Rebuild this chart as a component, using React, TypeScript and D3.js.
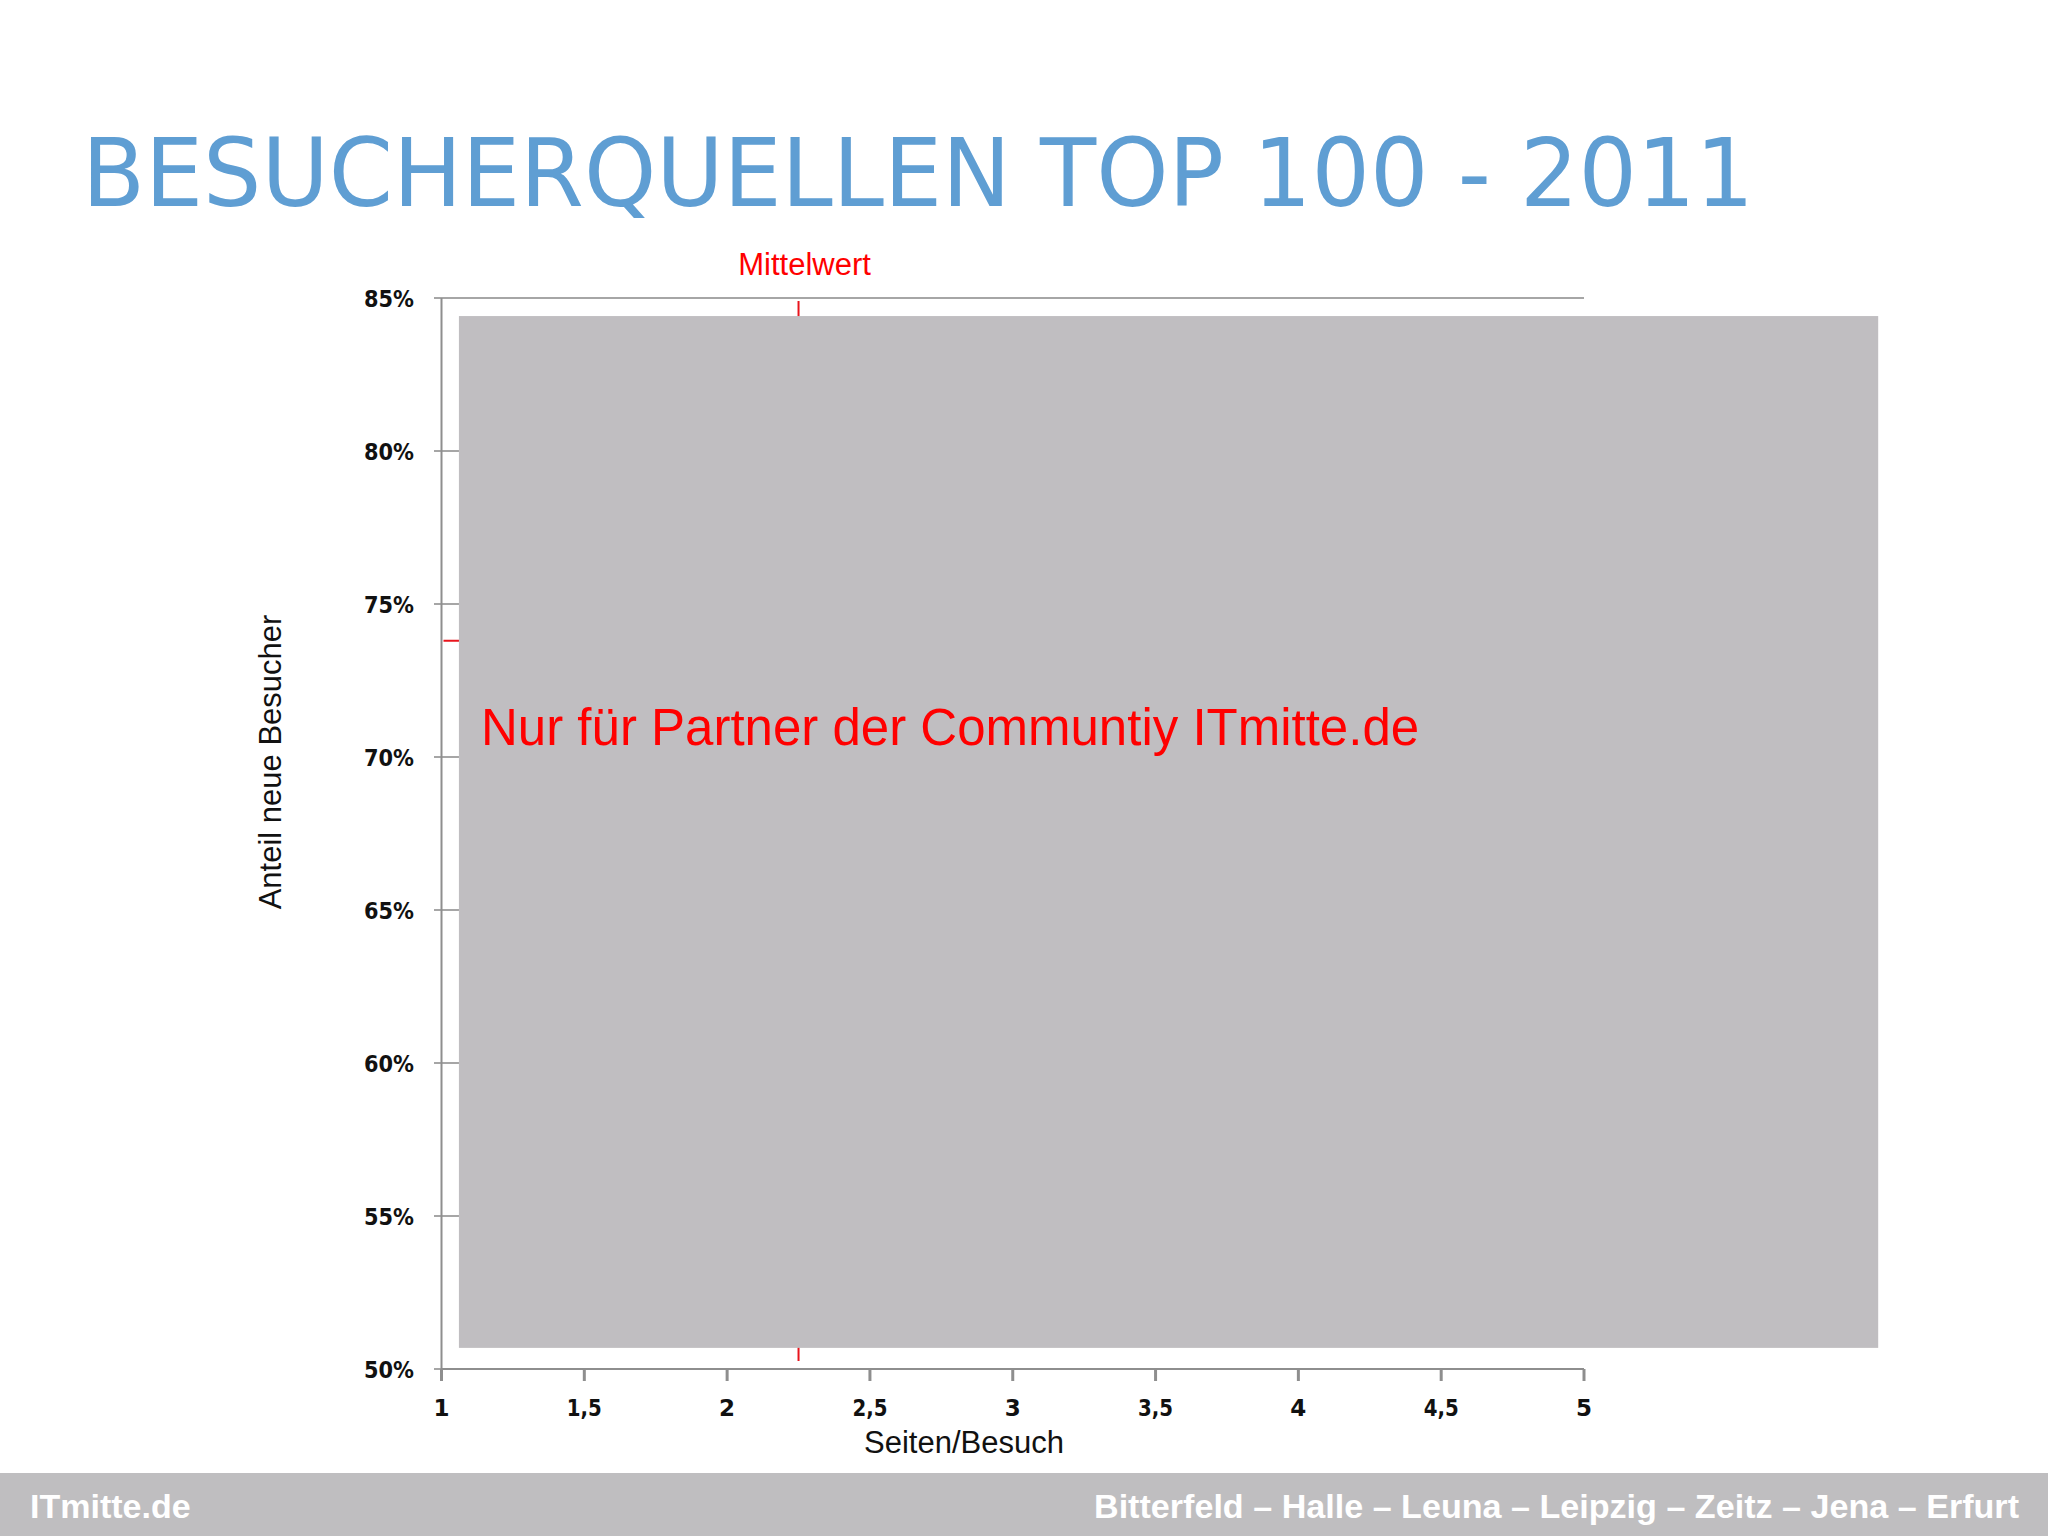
import React from "react";
import * as d3 from "d3";

const xTicks = [1, 1.5, 2, 2.5, 3, 3.5, 4, 4.5, 5];
const yTicks = [0.5, 0.55, 0.6, 0.65, 0.7, 0.75, 0.8, 0.85];
const meanX = 2.25;
const meanY = 0.738;
const coverX = [1.061, 6.03];
const coverY = [0.5069, 0.8441];
const title = "BESUCHERQUELLEN TOP 100 - 2011";
const xLabel = "Seiten/Besuch";
const yLabel = "Anteil neue Besucher";
const meanLabel = "Mittelwert";
const coverText = "Nur für Partner der Communtiy ITmitte.de";
const footerLeft = "ITmitte.de";
const footerRight = "Bitterfeld – Halle – Leuna – Leipzig – Zeitz – Jena – Erfurt";

const W = 2048;
const H = 1536;

export default function App() {
  const x = d3.scaleLinear().domain([1, 5]).range([441.5, 1584]);
  const y = d3.scaleLinear().domain([0.5, 0.85]).range([1369, 298]);
  const fmtX = (v: number) => String(v).replace(".", ",");
  const fmtY = (v: number) => `${Math.round(v * 100)}%`;
  const axisColor = "#8E8E8E";
  return (
    <svg
      width={W}
      height={H}
      style={{ position: "absolute", left: 0, top: 0, background: "#fff" }}
      fontFamily="'Liberation Sans', Arial, sans-serif"
    >
      <rect x={0} y={0} width={W} height={H} fill="#ffffff" />
      <text
        x={82}
        y={206}
        fontFamily="'DejaVu Sans', sans-serif"
        fontSize={95}
        fill="#5F9ED3"
        textLength={1672}
        lengthAdjust="spacingAndGlyphs"
      >
        {title}
      </text>

      {/* gridlines */}
      {yTicks.map((t) => (
        <line key={"g" + t} x1={434} x2={x(5)} y1={y(t)} y2={y(t)} stroke="#A6A6A6" strokeWidth={2} />
      ))}
      {/* y axis */}
      <line x1={x(1)} x2={x(1)} y1={y(0.85)} y2={y(0.5)} stroke={axisColor} strokeWidth={2} />
      {/* x axis */}
      <line x1={x(1)} x2={x(5)} y1={y(0.5)} y2={y(0.5)} stroke={axisColor} strokeWidth={2} />
      {xTicks.map((t) => (
        <g key={"x" + t}>
          <line x1={x(t)} x2={x(t)} y1={y(0.5)} y2={y(0.5) + 12} stroke={axisColor} strokeWidth={3} />
          <text
            x={x(t)}
            y={y(0.5) + 47}
            textAnchor="middle"
            fontFamily="'DejaVu Sans', sans-serif"
            fontWeight="bold"
            fontSize={23}
            fill="#111"
            textLength={fmtX(t).length > 1 ? 35 : undefined}
            lengthAdjust="spacingAndGlyphs"
          >
            {fmtX(t)}
          </text>
        </g>
      ))}
      {yTicks.map((t) => (
        <text
          key={"yl" + t}
          x={414}
          y={y(t) + 9}
          textAnchor="end"
          fontFamily="'DejaVu Sans', sans-serif"
          fontWeight="bold"
          fontSize={23}
          fill="#111"
          textLength={50}
          lengthAdjust="spacingAndGlyphs"
        >
          {fmtY(t)}
        </text>
      ))}

      {/* mean lines */}
      <line x1={x(meanX)} x2={x(meanX)} y1={y(0.85) + 3} y2={y(0.5) - 8} stroke="#E8141C" strokeWidth={2} />
      <line x1={x(1) + 2} x2={x(5)} y1={y(meanY)} y2={y(meanY)} stroke="#E8141C" strokeWidth={2} />
      <text x={x(meanX) + 6} y={275} textAnchor="middle" fontSize={31} fill="#FF0000">
        {meanLabel}
      </text>

      {/* cover */}
      <rect
        x={x(coverX[0])}
        y={y(coverY[1])}
        width={x(coverX[1]) - x(coverX[0])}
        height={y(coverY[0]) - y(coverY[1])}
        fill="#C0BEC1"
      />
      <text x={481} y={745} fontSize={51} fill="#FF0000">
        {coverText}
      </text>

      {/* axis titles */}
      <text x={964} y={1453} textAnchor="middle" fontSize={31} fill="#111">
        {xLabel}
      </text>
      <text
        transform={`translate(281, 762) rotate(-90)`}
        textAnchor="middle"
        fontSize={31}
        fill="#111"
      >
        {yLabel}
      </text>

      {/* footer */}
      <rect x={0} y={1473} width={W} height={H - 1473} fill="#BFBEC0" />
      <text x={30} y={1518} fontSize={34} fontWeight="bold" fill="#ffffff">
        {footerLeft}
      </text>
      <text
        x={1094}
        y={1518}
        fontSize={34}
        fontWeight="bold"
        fill="#ffffff"
        textLength={925}
        lengthAdjust="spacingAndGlyphs"
      >
        {footerRight}
      </text>
    </svg>
  );
}
